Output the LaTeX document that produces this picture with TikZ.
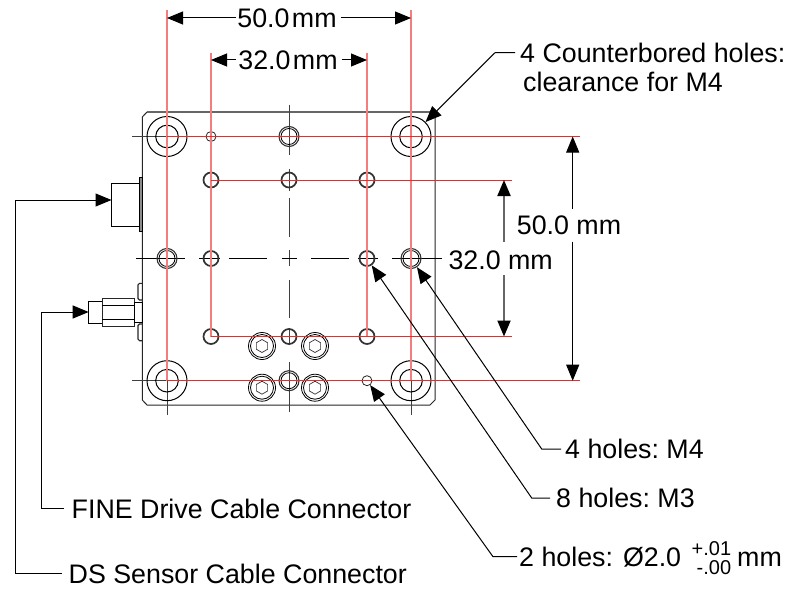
\documentclass[tikz,border=0pt]{standalone}
\usepackage{fontspec}
\setmainfont{Liberation Sans}
\usetikzlibrary{arrows.meta,positioning,shapes.geometric}

\definecolor{dimred}{RGB}{240,40,40}
\definecolor{dimpink}{RGB}{244,125,125}
\newcommand{\tolstack}[2]{\kern42pt\smash{\llap{\raisebox{11pt}{\fontsize{20}{20}\selectfont #1}}\llap{\raisebox{-7.7pt}{\fontsize{20}{20}\selectfont #2}}}}

\begin{document}
\frenchspacing
\begin{tikzpicture}[x=1pt,y=-1pt,
  label/.style={anchor=west,inner sep=0pt,text height=19.4pt,text depth=0pt,font=\fontsize{26.8}{31}\selectfont},
  dimtext/.style={label,anchor=center},
  plate/.style={draw=black!85,line width=1pt},
  leader/.style={draw=black,line width=1pt},
  tipped/.style={leader,-{Triangle[length=16pt,width=13pt]},shorten >=0pt},
  heavy/.style={tipped,draw=black!60,line width=2pt,-{Triangle[length=16pt,width=13pt,color=black]}},
  redline/.style={draw=dimred,line width=.8pt},
  redvert/.style={draw=dimpink,line width=1.1pt},
  axis/.style={draw=black!75,line width=1pt},
  cbore/.style={circle,draw=black,line width=1pt,inner sep=0pt,minimum size=40pt},
  mfour/.style={circle,draw=black!80,line width=1.1pt,inner sep=0pt,minimum size=20pt},
  mthree/.style={circle,draw=black!80,line width=1.7pt,inner sep=0pt,minimum size=15pt},
  pinhole/.style={circle,draw=black!85,line width=.8pt,inner sep=0pt,minimum size=10pt},
  capscrew/.style={circle,draw=black,line width=.8pt,inner sep=0pt,minimum size=27pt},
  hexhead/.style={regular polygon,regular polygon sides=6,shape border rotate=30,draw=black!80,line width=.7pt,inner sep=0pt,minimum size=13pt}]

  \useasboundingbox (0,0) rectangle (799,591);

  % plate
  \draw[plate] (147,112) -- (430,112) -- (435,117) -- (435,400) -- (430,405) -- (147,405) -- (142.3,400) -- (142.3,117) -- cycle;
  \draw[draw=black!60,line width=2pt] (147,112) -- (430,112);

  % centre marks
  \foreach \x in {167,411} {
    \draw[axis] (\x,102) -- (\x,170);
    \draw[axis] (\x,347) -- (\x,415);
  }
  \foreach \xa/\xb in {132/200,378/446} {
    \draw[axis] (\xa,136.5) -- (\xb,136.5);
    \draw[axis] (\xa,380.7) -- (\xb,380.7);
  }
  \foreach \ya/\yb in {105/155,169/191,198/237,250/266,280/318,328/345,362/412}
    \draw[axis] (289,\ya) -- (289,\yb);
  \foreach \xa/\xb in {136/185,199/220,229/267,282/297,311/349,358/378,392/442}
    \draw[axis,draw=black] (\xa,258.5) -- (\xb,258.5);

  % holes
  \foreach \n/\x/\y in {cbA/167/136.5,cbB/411/136.5,cbC/167/380.7,cbD/411/380.7} {
    \node[cbore] (\n) at (\x,\y) {};
    \draw[line width=1pt] (\n) circle (11.3);
  }
  \foreach \n/\x/\y in {mfA/289/136.5,mfB/167/258.5,mfC/411/258.5,mfD/289/380.7} {
    \node[mfour] (\n) at (\x,\y) {};
    \draw[line width=.8pt] (\n) circle (8);
  }
  \foreach \n/\x/\y in {mtA/211/180,mtB/289/180,mtC/367/180,mtD/211/258.5,mtE/367/258.5,mtF/211/336.5,mtG/289/336.5,mtH/367/336.5}
    \node[mthree] (\n) at (\x,\y) {};
  \node[pinhole] (pinA) at (211,136.5) {};
  \node[pinhole] (pinB) at (367,380.7) {};
  \foreach \n/\x/\y in {csA/262/346,csB/315/346,csC/262/387.7,csD/315/387.7} {
    \node[capscrew] (\n) at (\x,\y) {};
    \draw[line width=.8pt] (\n) circle (11.5);
    \node[hexhead] at (\n) {};
  }

  % connectors on the left side
  \draw[draw=black,line width=.9pt,fill=white] (111.5,183.3) rectangle (139.3,226.3);
  \draw[draw=black,line width=.8pt,fill=black!45] (139.3,177.3) rectangle (142.3,231.3);
  \coordinate (dsend) at (111.5,200);

  \draw[draw=black,line width=.9pt] (88.7,301) rectangle (102.3,323.3);
  \draw[draw=black!85,line width=1.1pt] (102.3,298.3) rectangle (134.3,326.3);
  \draw[draw=black,line width=.8pt] (102.3,305.3) -- (134.3,305.3);
  \draw[draw=black,line width=.8pt] (102.3,319) -- (134.3,319);
  \draw[draw=black,line width=.9pt] (134.3,302.3) rectangle (142.3,322.7);
  \draw[draw=black!85,line width=1.1pt,rounded corners=1.5pt] (142.3,283.3) -- (138,283.3) -- (138,300) -- (142.3,300);
  \draw[draw=black!85,line width=1.1pt,rounded corners=1.5pt] (142.3,324) -- (138,324) -- (138,340.7) -- (142.3,340.7);
  \coordinate (fineend) at (88.7,312);

  % red lines
  \draw[redvert] (167,10) -- (167,380.7);
  \draw[redvert] (411,10) -- (411,380.7);
  \draw[redvert] (211,53) -- (211,336.5);
  \draw[redvert] (367,53) -- (367,336.5);
  \draw[redline] (167,136.5) -- (580,136.5);
  \draw[redline] (167,380.7) -- (580,380.7);
  \draw[redline] (211,180) -- (512,180);
  \draw[redline] (211,336.5) -- (512,336.5);

  % dimensions
  \coordinate (topAl) at (167,18);
  \coordinate (topAr) at (411,18);
  \coordinate (topBl) at (211,60);
  \coordinate (topBr) at (367,60);
  \node[dimtext] (dimfifty) at (287,18) {50.0\kern2.5pt mm};
  \node[dimtext] (dimthirty) at (288,60) {32.0\kern2.5pt mm};
  \draw[tipped] ([xshift=-1pt]dimfifty.west) -- (topAl);
  \draw[tipped] ([xshift=4pt]dimfifty.east) -- (topAr);
  \draw[tipped] ([xshift=-2pt]dimthirty.west) -- (topBl);
  \draw[tipped] ([xshift=4pt]dimthirty.east) -- (topBr);

  \coordinate (rgtAt) at (572.7,136.5);
  \coordinate (rgtAb) at (572.7,380.7);
  \coordinate (rgtBt) at (504,180);
  \coordinate (rgtBb) at (504,336.5);
  \coordinate (gapAt) at (572.7,209);
  \coordinate (gapAb) at (572.7,241.7);
  \coordinate (gapBt) at (504,241.7);
  \coordinate (gapBb) at (504,275);
  \node[label] (dimrfifty) at (516.7,225) {50.0 mm};
  \node[label] (dimrthirty) at (448.3,259.3) {32.0 mm};
  \draw[tipped] (gapAt) -- (rgtAt);
  \draw[tipped] (gapAb) -- (rgtAb);
  \draw[heavy] (gapBt) -- (rgtBt);
  \draw[heavy] (gapBb) -- (rgtBb);

  % labels
  \node[label] (lblcbore) at (520,52.7) {4 Counterbored holes:};
  \node[label] (lblclear) at (523,82) {clearance for M4};
  \node[label] (lblmfour) at (565,449) {4 holes: M4};
  \node[label] (lblmthree) at (556,498) {8 holes: M3};
  \node[label] (lblpin) at (519,556.7) {2 holes:\hspace{10pt}Ø2.0\hspace{8pt}\tolstack{+.01}{-.00}\hspace{6pt}mm};
  \node[label] (lblfine) at (71.5,508.5) {FINE Drive Cable Connector};
  \node[label] (lblds) at (68.5,573.5) {DS Sensor Cable Connector};

  \draw[tipped] ([xshift=-5pt]lblcbore.west) -- (495,52.7) -- (cbB);
  \draw[tipped] ([xshift=-4pt]lblmfour.west) -- (541.7,449) -- (mfC);
  \draw[tipped] ([xshift=-6pt]lblmthree.west) -- (531.7,498) -- (mtE);
  \draw[tipped] ([xshift=-2pt]lblpin.west) -- (493,556.7) -- (pinB);
  \draw[tipped] ([xshift=-8pt]lblfine.west) -- (41,508.5) -- (41,312) -- (fineend);
  \draw[tipped] ([xshift=-7pt]lblds.west) -- (15.7,573.5) -- (15.7,200) -- (dsend);
\end{tikzpicture}
\end{document}
